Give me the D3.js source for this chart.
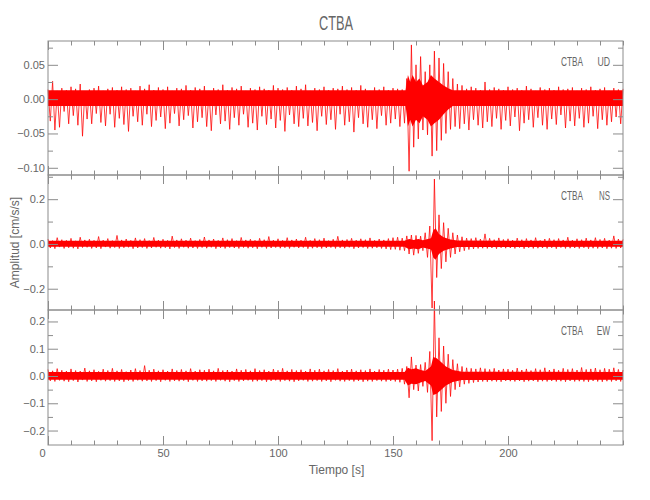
<!DOCTYPE html>
<html><head><meta charset="utf-8">
<script src="https://cdn.jsdelivr.net/npm/d3@7"></script>
<style>
body{margin:0;background:#fff}
text{font-family:"Liberation Sans",Arial,sans-serif;fill:#666}
</style>
</head><body>
<svg id="c" width="650" height="500"></svg>
<script>
const chartTitle = "CTBA";
const station = "CTBA";
const components = ["UD", "NS", "EW"];
const xLabel = "Tiempo [s]";
const yLabel = "Amplitud [cm/s/s]";
const xTickValues = [0, 50, 100, 150, 200];
const sampleStep = 1; // seconds between the read-off peak samples
const timeRange = [0, 250];

// Vertical-component (UD) peak samples, one per second
const ud = [
.014,-.032,.026,-.045,.012,-.041,.016,-.018,.013,-.036,
.018,-.024,.015,-.038,.022,-.054,.011,-.029,.014,-.036,
.016,-.021,.019,-.034,.012,-.039,.015,-.022,.017,-.041,
.013,-.028,.018,-.037,.014,-.047,.016,-.025,.012,-.033,
.019,-.038,.015,-.022,.021,-.04,.013,-.031,.017,-.026,
.014,-.043,.018,-.035,.012,-.021,.016,-.039,.015,-.03,
.02,-.024,.013,-.042,.017,-.033,.015,-.027,.019,-.04,
.012,-.046,.016,-.023,.014,-.036,.021,-.032,.013,-.044,
.017,-.027,.015,-.038,.019,-.022,.012,-.041,.016,-.035,
.014,-.045,.018,-.025,.015,-.037,.013,-.029,.02,-.042,
.016,-.031,.014,-.047,.017,-.023,.013,-.036,.019,-.04,
.015,-.028,.021,-.039,.012,-.034,.016,-.046,.014,-.025,
.018,-.037,.013,-.03,.016,-.044,.015,-.022,.019,-.038,
.014,-.033,.017,-.048,.013,-.027,.02,-.036,.015,-.041,
.012,-.03,.017,-.043,.014,-.024,.018,-.038,.013,-.035,
.016,-.029,.015,-.04,.014,-.035,.03,-.105,.079,-.07,
.05,-.058,.062,-.045,.04,-.052,.05,-.083,.07,-.075,
.06,-.06,.052,-.05,.04,-.044,.03,-.04,.022,-.043,
.02,-.036,.015,-.045,.018,-.03,.016,-.038,.013,-.042,
.025,-.033,.014,-.04,.017,-.028,.015,-.044,.013,-.031,
.018,-.039,.014,-.026,.016,-.046,.013,-.035,.019,-.03,
.015,-.041,.012,-.027,.017,-.038,.014,-.044,.016,-.029,
.013,-.037,.018,-.023,.014,-.042,.015,-.032,.017,-.039,
.012,-.028,.016,-.041,.014,-.035,.018,-.025,.013,-.043,
.015,-.03,.017,-.038,.012,-.033,.016,-.026,.014,-.036,
.015
];
// UD dense-core envelope (time in s, upper, lower)
const udCoreT  = [0, 155.5, 156.5, 157.5, 158.5, 160, 161.5, 163, 165, 166.5, 168, 170, 172, 174, 176, 250];
const udCoreHi = [.013, .013, .035, .025, .035, .025, .03, .02, .025, .035, .03, .025, .02, .016, .013, .013];
const udCoreLo = [-.01, -.01, -.04, -.03, -.04, -.03, -.035, -.025, -.03, -.04, -.035, -.03, -.022, -.015, -.01, -.01];

// North-south component (NS)
const ns = [
.022,-.018,.015,-.021,.028,-.014,.019,-.02,.016,-.017,
.025,-.019,.014,-.022,.03,-.016,.018,-.015,.021,-.02,
.016,-.018,.033,-.021,.017,-.014,.024,-.019,.015,-.016,
.038,-.02,.018,-.017,.022,-.015,.016,-.021,.027,-.018,
.019,-.016,.024,-.02,.015,-.018,.029,-.015,.017,-.019,
.021,-.017,.016,-.022,.035,-.016,.018,-.02,.023,-.015,
.017,-.019,.026,-.018,.015,-.02,.02,-.016,.031,-.019,
.018,-.015,.022,-.021,.016,-.017,.027,-.02,.019,-.016,
.024,-.018,.015,-.02,.029,-.016,.018,-.019,.021,-.017,
.016,-.021,.025,-.015,.019,-.02,.033,-.018,.017,-.016,
.023,-.019,.016,-.017,.028,-.02,.018,-.015,.022,-.018,
.017,-.016,.03,-.021,.016,-.019,.024,-.017,.019,-.02,
.026,-.018,.015,-.016,.021,-.02,.034,-.017,.018,-.019,
.02,-.015,.025,-.021,.017,-.018,.023,-.016,.019,-.02,
.027,-.019,.016,-.017,.022,-.02,.018,-.022,.024,-.025,
.028,-.024,.03,-.028,.026,-.03,.036,-.045,.04,-.05,
.038,-.042,.035,-.03,.05,-.06,.08,-.286,.29,-.15,
.13,-.11,.095,-.08,.07,-.06,.05,-.045,.04,-.035,
.032,-.03,.026,-.025,.024,-.022,.028,-.02,.022,-.019,
.045,-.02,.025,-.018,.019,-.021,.027,-.017,.02,-.019,
.023,-.018,.017,-.02,.026,-.016,.019,-.021,.024,-.017,
.018,-.02,.028,-.019,.016,-.018,.022,-.02,.025,-.017,
.019,-.021,.024,-.016,.018,-.02,.03,-.019,.017,-.018,
.023,-.02,.019,-.017,.026,-.021,.018,-.019,.028,-.02,
.02,-.018,.025,-.021,.017,-.019,.036,-.02,.022,-.018,
.02
];
const nsCoreT  = [0, 155, 157, 159, 161, 163, 166.5, 167.5, 168.5, 170, 172, 175, 178, 250];
const nsCoreHi = [.014, .014, .022, .018, .022, .016, .025, .06, .07, .045, .03, .02, .015, .014];
const nsCoreLo = [-.013, -.013, -.024, -.02, -.024, -.016, -.025, -.06, -.07, -.045, -.03, -.02, -.014, -.013];

// East-west component (EW)
const ew = [
.024,-.018,.019,-.02,.027,-.016,.021,-.019,.018,-.021,
.026,-.017,.02,-.022,.018,-.015,.029,-.02,.019,-.018,
.023,-.021,.017,-.016,.025,-.019,.02,-.017,.028,-.02,
.019,-.018,.024,-.021,.016,-.017,.022,-.02,.027,-.016,
.02,-.019,.038,-.018,.021,-.02,.025,-.017,.019,-.021,
.023,-.016,.018,-.02,.026,-.018,.02,-.019,.024,-.017,
.019,-.021,.027,-.016,.018,-.02,.023,-.018,.021,-.019,
.025,-.017,.019,-.02,.028,-.016,.02,-.019,.022,-.021,
.018,-.017,.026,-.02,.021,-.018,.024,-.016,.019,-.02,
.027,-.019,.02,-.017,.023,-.021,.018,-.018,.025,-.016,
.021,-.02,.028,-.017,.019,-.019,.024,-.021,.02,-.018,
.023,-.016,.018,-.02,.026,-.019,.021,-.017,.025,-.02,
.019,-.018,.024,-.021,.02,-.016,.027,-.019,.018,-.02,
.022,-.017,.025,-.02,.019,-.018,.023,-.021,.02,-.019,
.026,-.02,.018,-.017,.024,-.019,.021,-.02,.025,-.018,
.022,-.02,.025,-.023,.028,-.03,.035,-.08,.07,-.05,
.04,-.055,.042,-.038,.05,-.06,.09,-.237,.275,-.15,
.14,-.13,.11,-.1,.08,-.075,.06,-.05,.045,-.04,
.035,-.03,.03,-.027,.028,-.024,.026,-.022,.03,-.02,
.027,-.021,.024,-.019,.028,-.02,.022,-.021,.026,-.018,
.025,-.019,.021,-.02,.029,-.018,.022,-.021,.026,-.019,
.02,-.018,.027,-.021,.023,-.019,.03,-.02,.022,-.018,
.026,-.02,.021,-.019,.028,-.021,.024,-.018,.027,-.02,
.022,-.019,.031,-.02,.024,-.021,.026,-.018,.029,-.02,
.023,-.021,.028,-.019,.025,-.02,.03,-.018,.024,-.02,
.022
];
const ewCoreT  = [0, 155, 156.5, 158, 160, 162, 164, 166.5, 167.5, 169, 171, 173, 176, 180, 250];
const ewCoreHi = [.015, .015, .03, .025, .028, .022, .018, .035, .07, .065, .05, .035, .022, .016, .015];
const ewCoreLo = [-.014, -.014, -.035, -.028, -.03, -.024, -.018, -.035, -.07, -.065, -.05, -.035, -.022, -.015, -.014];

const series = [ud, ns, ew];
const cores = [[udCoreT, udCoreHi, udCoreLo], [nsCoreT, nsCoreHi, nsCoreLo], [ewCoreT, ewCoreHi, ewCoreLo]];
const yDomains = [[-0.1105, 0.0847], [-0.295, 0.308], [-0.253, 0.242]];
const yMajorTicks = [[-0.10, -0.05, 0.00, 0.05], [-0.2, 0.0, 0.2], [-0.2, -0.1, 0.0, 0.1, 0.2]];
const yMinorTicks = [[-0.075, -0.025, 0.025, 0.075], [-0.1, 0.1, 0.3], [-0.15, -0.05, 0.05, 0.15]];
const yFormats = [".2f", ".1f", ".1f"];

// ---- layout ----
const svg = d3.select("#c");
const left = 48, right = 623;
const bands = [[41, 175], [175, 310], [310, 445]];
const axisColor = "#8c8c8c";

const x = d3.scaleLinear().domain(timeRange).range([left, right]);
const xMinor = d3.range(0, 251, 10).filter(v => !xTickValues.includes(v));

svg.append("text").attr("x", 336).attr("y", 30).attr("text-anchor", "middle")
  .attr("font-size", 20).attr("textLength", 34).attr("lengthAdjust", "spacingAndGlyphs")
  .text(chartTitle);

function styleAxis(g) {
  g.select(".domain").remove();
  g.selectAll("line").attr("stroke", axisColor);
  g.selectAll("text").attr("font-size", 11).attr("fill", "#666")
    .attr("font-family", '"Liberation Sans",Arial,sans-serif');
}

const traces = svg.append("g");

series.forEach((vals, p) => {
  const [y0, y1] = bands[p];
  const y = d3.scaleLinear().domain(yDomains[p]).range([y1, y0]);
  const g = svg.append("g");

  // frame
  g.append("rect").attr("x", left).attr("y", y0).attr("width", right - left).attr("height", y1 - y0)
    .attr("fill", "none").attr("stroke", axisColor).attr("stroke-width", 1);

  // dense core of the trace
  const [cT, cHi, cLo] = cores[p];
  const area = d3.area().x((d, i) => x(cT[i])).y0((d, i) => y(cLo[i])).y1(d => y(d));
  traces.append("path").datum(cHi).attr("d", area).attr("fill", "#ff0000");

  // peaks of the trace
  const line = d3.line().x((d, i) => x(i * sampleStep)).y(d => y(d));
  traces.append("path").datum(vals).attr("d", line)
    .attr("fill", "none").attr("stroke", "#ff0000").attr("stroke-width", 0.9)
    .attr("stroke-opacity", 0.85);

  // x ticks top & bottom (inward)
  const tb = g.append("g").attr("transform", `translate(0,${y1})`)
    .call(d3.axisBottom(x).tickValues(xTickValues).tickSize(-9).tickPadding(4)
      .tickFormat(p === 2 ? d3.format("d") : ""));
  styleAxis(tb);
  if (p === 2) tb.selectAll("text").filter(d => d === 0).attr("dx", -6);
  styleAxis(g.append("g").attr("transform", `translate(0,${y1})`)
    .call(d3.axisBottom(x).tickValues(xMinor).tickSize(-4.5).tickFormat("")));
  styleAxis(g.append("g").attr("transform", `translate(0,${y0})`)
    .call(d3.axisTop(x).tickValues(xTickValues).tickSize(-9).tickFormat("")));
  styleAxis(g.append("g").attr("transform", `translate(0,${y0})`)
    .call(d3.axisTop(x).tickValues(xMinor).tickSize(-4.5).tickFormat("")));

  // y ticks left & right (inward)
  styleAxis(g.append("g").attr("transform", `translate(${left},0)`)
    .call(d3.axisLeft(y).tickValues(yMajorTicks[p]).tickSize(-10).tickPadding(3)
      .tickFormat(d3.format(yFormats[p]))));
  styleAxis(g.append("g").attr("transform", `translate(${left},0)`)
    .call(d3.axisLeft(y).tickValues(yMinorTicks[p].filter(v => y(v) > y0 + 1)).tickSize(-5).tickFormat("")));
  styleAxis(g.append("g").attr("transform", `translate(${right},0)`)
    .call(d3.axisRight(y).tickValues(yMajorTicks[p]).tickSize(-10).tickFormat("")));
  styleAxis(g.append("g").attr("transform", `translate(${right},0)`)
    .call(d3.axisRight(y).tickValues(yMinorTicks[p].filter(v => y(v) > y0 + 1)).tickSize(-5).tickFormat("")));

  // panel label
  g.append("text").attr("x", 561).attr("y", y0 + 25).attr("font-size", 13)
    .attr("textLength", 22).attr("lengthAdjust", "spacingAndGlyphs").text(station);
  g.append("text").attr("x", 610).attr("y", y0 + 25).attr("font-size", 13).attr("text-anchor", "end")
    .attr("textLength", [12.6, 11, 13.3][p]).attr("lengthAdjust", "spacingAndGlyphs").text(components[p]);
});

svg.append("text").attr("x", 336.5).attr("y", 474).attr("text-anchor", "middle")
  .attr("font-size", 12).text(xLabel);
svg.append("text").attr("transform", "translate(19,242.5) rotate(-90)").attr("text-anchor", "middle")
  .attr("font-size", 12).text(yLabel);
</script>
</body></html>
